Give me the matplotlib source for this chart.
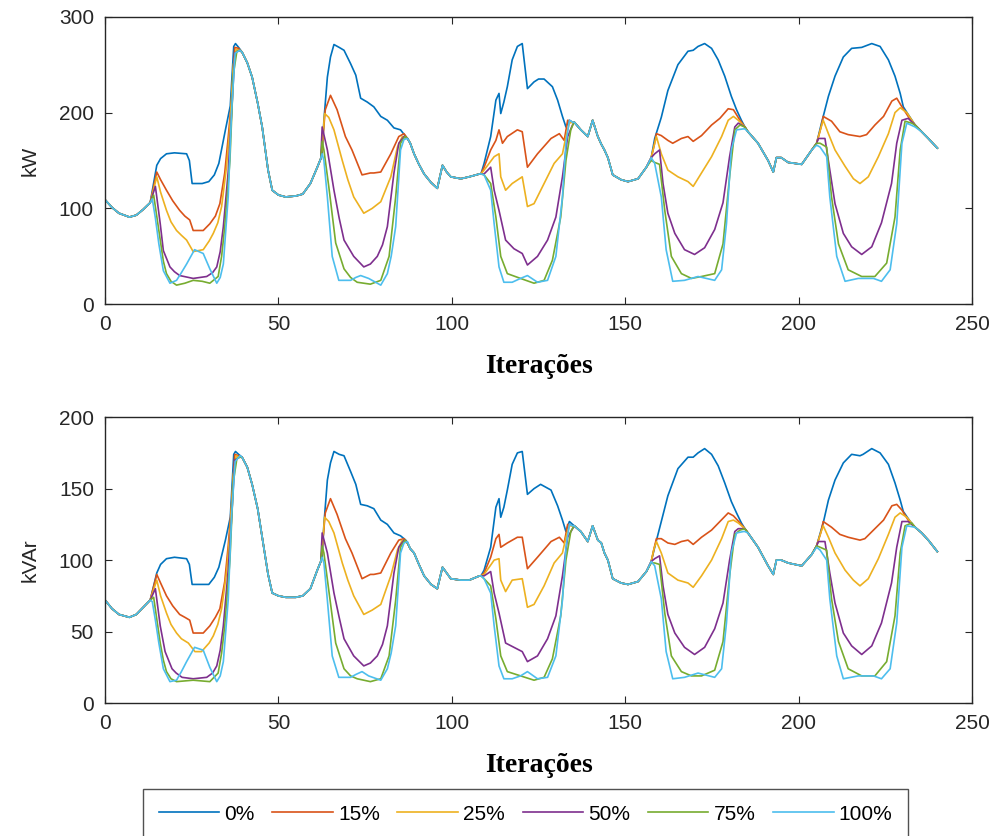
import matplotlib
matplotlib.use('Agg')
import matplotlib.pyplot as plt

labels = ['0%', '15%', '25%', '50%', '75%', '100%']
colors = ['#0072BD', '#D95319', '#EDB120', '#7E2F8E', '#77AC30', '#4DBEEE']

# stretches where every case is the same (between the load windows)
base_x = [0, 2, 4, 7, 9, 11, 13,
          39.5, 41, 42.4, 44, 45.3, 47, 48.2, 50, 52.1, 55, 57, 59.2, 61.2, 62.2,
          88, 89.1, 90.5, 92, 94, 95.8, 97.3, 98.5, 99.7, 102.6, 105, 108,
          135.3, 137.2, 139.2, 140.6, 142.1, 143.1, 144, 145, 146.4, 148.8, 150.8, 153.7, 156.1,
          185.4, 188.3, 191.2, 192.7, 193.6, 195, 197, 200.9, 203.8,
          235.5, 237.4, 240]
kw_base = [109, 101, 95, 91, 93, 99, 106,
           263, 252, 237, 210, 185, 140, 119, 114, 112, 113, 115, 126, 143, 152,
           168, 157, 146, 136, 127, 121, 145, 138, 133, 131, 133, 136,
           190, 182, 175, 192, 175, 167, 161, 153, 135, 130, 128, 131, 143,
           180, 168, 150, 138, 153, 153, 148, 146, 161,
           180, 173, 163]
kvar_base = [72, 66, 62, 60, 62, 67, 72,
             172, 165, 153, 136, 116, 90, 77, 75, 74, 74, 75, 80, 93, 99,
             108, 105, 97, 89, 83, 80, 95, 91, 87, 86, 86, 89,
             124, 120, 113, 124, 114, 112, 105, 100, 87, 84, 83, 85, 92,
             119, 109, 96, 90, 100, 100, 98, 96, 104,
             119, 114, 106]

# kW inside the windows, (iteration, value)
kw_0 = [(14.9,145),(16,152),(17.7,157),(20,158),(23.5,157),(24.3,150),(25.1,126),(28,126),(29.9,128),(31.5,135),(32.8,147),(34.7,182),(36.1,207),(37.1,269),(37.6,272),(38.5,268),
        (62.6,157),(63.1,192),(64.1,237),(65,258),(66,271),(67.5,268),(68.9,265),(70.8,251),(72.3,239),(73.7,215),(75.6,211),(77.5,206),(79.5,196),(81.4,192),(83.3,184),(85.2,182),(86.7,175),(87.2,173),
        (108.4,136),(109.3,147),(111.2,175),(112.7,213),(113.6,220),(114.1,199),(115,211),(116,227),(117.4,255),(118.9,269),(120.3,272),(121,250),(121.8,225),(123.7,232),(125,235),(126.6,235),(129,227),(130.5,213),(131.9,196),(132.9,185),(133.9,192),(134.8,190),
        (157.5,153),(158.5,173),(160.4,195),(162.3,223),(165.2,250),(168.1,264),(169.6,265),(171,269),(172.9,272),(174.9,267),(176.8,255),(178.7,238),(180.6,217),(182.1,203),(183.5,192),(184.5,185),
        (205.2,168),(206.6,189),(208.6,217),(210.5,238),(212.9,258),(215.3,267),(218.2,268),(221.1,272),(223.5,269),(225.9,255),(227.8,238),(229.3,220),(230.2,206),(231.6,198),(233.6,187)]
kw_15 = [(14.9,138),(16,130),(17.7,119),(19.5,108),(21.5,98),(23,92),(24.4,88),(25.4,77),(28.3,77),(30.2,84),(31.8,92),(33.1,105),(34.5,137),(35.5,174),(36.5,215),(37.4,268),(38.5,267),
         (62.6,165),(63.5,203),(65,218),(66.9,203),(69.3,175),(71.2,161),(74.1,135),(76.5,137),(77.5,137),(79.5,138),(82.4,157),(84.7,175),(86.2,178),(87.2,173),
         (108.4,136),(109.3,143),(111.2,161),(112.7,171),(113.6,182),(114.6,168),(116,175),(118.9,182),(120.3,180),(121.8,143),(124.7,157),(128.6,173),(131,178),(132.4,171),(133.4,192),(134.8,190),
         (157.5,153),(158.3,165),(159,178),(160.4,176),(162.3,171),(163.7,168),(166.2,173),(168.1,175),(169.6,170),(172,176),(174.9,187),(177.3,194),(179.7,204),(181.2,203),(183.1,192),(184.5,185),
         (205.2,168),(206.5,185),(207.1,196),(209.5,191),(211.9,180),(214.3,177),(217.7,175),(219.6,177),(222,187),(224.5,196),(226.9,212),(228.3,215),(229.8,206),(231.6,196),(233.6,187)]
kw_25 = [(14.9,133),(16,117),(17.7,98),(19,86),(20.6,77),(22,72),(23.5,67),(25.4,55),(28.3,57),(30,66),(31.2,74),(32.5,85),(33.6,102),(35,143),(36,185),(37,250),(37.8,266),(38.7,265),
         (62.6,165),(63.3,199),(64.5,195),(66,182),(68.4,150),(70,130),(71.7,112),(74.6,95),(77,100),(79.5,107),(82.4,133),(84.3,164),(85.7,175),(87.2,173),
         (108.4,136),(109.3,140),(112.2,154),(113.6,157),(114.1,133),(115.5,119),(117.4,126),(120.3,133),(121.8,102),(123.7,105),(126.6,126),(129.5,147),(131.9,157),(132.9,175),(133.9,189),(134.8,190),
         (157.5,153),(158.3,165),(159,175),(160.4,157),(162.3,140),(165.2,133),(168.1,128),(169.6,123),(172,137),(174.9,154),(177.8,175),(179.7,192),(181.2,196),(182.6,192),(184.5,185),
         (205.2,168),(206.5,185),(207.1,192),(208.6,178),(210.5,161),(213.4,144),(215.8,131),(217.7,126),(220.1,133),(223,154),(225.9,178),(227.8,200),(229.3,205),(231.2,200),(233.6,187)]
kw_50 = [(14.5,123),(15.9,84),(16.8,56),(18.7,39),(20,34),(21.5,30),(25.4,27),(29.3,29),(31,33),(32.2,39),(33.2,55),(34.1,81),(35.5,138),(36.5,200),(37.4,262),(38.7,265),
         (62.6,185),(64.1,161),(66,119),(67.5,90),(68.9,67),(71.7,50),(74.6,39),(76.5,42),(78.5,50),(80,62),(81.4,81),(83.3,137),(84.7,168),(86.2,175),(87.2,173),
         (108.4,136),(109.3,136),(111.2,143),(112.2,119),(113.6,98),(115.5,67),(117.9,58),(120.3,53),(121.8,41),(124.7,50),(127.6,67),(130,91),(131.9,133),(133.4,175),(134.8,187),
         (157.5,153),(158.5,157),(159.9,161),(160.9,126),(162.3,95),(164.3,74),(167.1,57),(170,52),(172.9,59),(175.8,78),(178.2,106),(180.1,154),(181.6,185),(182.6,189),(184.5,185),
         (205.2,168),(205.7,173),(207.6,173),(209,140),(210.5,105),(212.9,74),(215.3,60),(218.2,52),(221.1,60),(223.9,85),(226.8,126),(228.3,168),(229.8,192),(231.6,194),(233.6,187)]
kw_75 = [(14,114),(15.9,67),(16.8,45),(17.7,32),(19,24),(20.6,20),(23,22),(25.4,25),(28,24),(30.2,22),(32.6,29),(33.6,50),(34.5,81),(36,150),(37,240),(38,264),(38.9,265),
         (62.6,170),(63.1,161),(64.5,123),(66.5,64),(68.9,37),(70.8,28),(72.7,23),(76.5,21),(79.5,25),(81.9,50),(83.8,112),(85.2,168),(86.5,175),(87.2,173),
         (108.4,136),(109.3,135),(111.2,126),(112.7,91),(114.1,50),(116,32),(119.8,27),(123.7,22),(126.6,25),(129,46),(131.4,91),(132.9,150),(134.3,182),(135,188),
         (157.5,150),(158.5,148),(159.9,146),(161.4,98),(163.3,50),(166.2,32),(169.1,27),(172,29),(175.8,32),(178.2,63),(180.1,133),(181.6,182),(183.1,187),(184.5,185),
         (205.2,168),(206.2,168),(208.1,164),(209.5,112),(211.5,63),(214.3,36),(218.2,29),(222,29),(225.4,43),(227.8,91),(229.3,161),(230.7,191),(232.6,189),(233.6,187)]
kw_100 = [(13.6,110),(14.5,90),(15.5,63),(16.8,35),(18.7,22),(20.6,25),(22,33),(23.5,42),(25.8,57),(28.3,53),(30.2,37),(32.2,22),(33.2,28),(34.1,42),(35.5,112),(36.5,203),(37.5,262),(38.9,265),
          (62.6,157),(63.1,150),(64.1,112),(65.5,50),(67.4,25),(70.8,25),(72.3,28),(73.7,30),(76,27),(79.5,20),(81.4,32),(82.5,50),(83.8,81),(85.2,161),(86.2,172),(87.2,173),
          (108.4,136),(109.3,135),(111.2,119),(112.2,84),(113.6,39),(115,23),(117.4,23),(119.8,27),(121.8,30),(124.7,23),(127.6,25),(130,50),(131.9,112),(132.9,168),(133.9,192),(134.8,190),
          (157.5,153),(158.5,147),(160.4,112),(161.8,57),(163.7,24),(167.1,25),(171,29),(175.8,25),(177.8,36),(179.2,84),(180.6,161),(182.1,182),(184.1,183),(184.5,183),
          (205.2,166),(206.2,164),(208.1,154),(209,112),(211,50),(213.4,24),(217.2,27),(221.6,27),(223.9,24),(226.4,36),(228.3,84),(229.8,168),(231.2,189),(233.6,185)]

# kVAr inside the windows
kvar_0 = [(14.9,91),(16,97),(17.7,101),(20,102),(23.5,101),(24.3,97),(25.1,83),(28,83),(29.9,83),(31.5,88),(32.8,95),(34.7,114),(36.1,130),(37.1,174),(37.6,176),(38.5,174),
          (62.6,102),(63.1,125),(64.1,156),(65,168),(66,176),(67.5,174),(68.9,173),(70.8,162),(72.3,153),(73.7,139),(75.6,138),(77.5,136),(79.5,128),(81.4,125),(83.3,119),(85.2,117),(86.7,114),(87.2,112),
          (108.4,89),(109.3,93),(111.2,109),(112.7,137),(113.6,143),(114.1,130),(115,137),(116,149),(117.4,167),(118.9,175),(120.3,176),(121,162),(121.8,146),(123.7,150),(125.6,153),(128.6,149),(130.5,138),(131.9,128),(132.9,120),(133.9,127),(134.8,125),
          (157.5,99),(158.5,109),(160.4,127),(162.3,145),(165.2,164),(168.1,172),(169.6,172),(171,175),(172.9,178),(174.9,174),(176.8,166),(178.7,154),(180.6,141),(182.1,133),(183.5,126),(184.5,122),
          (205.2,110),(206.6,122),(207.1,126),(208.6,142),(210.5,156),(212.9,168),(215.3,174),(217.7,173),(218.6,174),(221.1,178),(223.5,175),(225.9,167),(227.8,154),(229.3,142),(230.2,134),(232.2,127),(233.6,123)]
kvar_15 = [(14.9,90),(16,84),(17.7,75),(19.5,68),(21.5,62),(23,60),(24.4,58),(25.4,49),(28.3,49),(30.2,54),(31.8,60),(33.1,66),(34.5,85),(35.5,110),(36.5,140),(37.4,174),(38.5,173),
           (62.6,108),(63.5,133),(65,143),(66.9,132),(69.3,115),(71.2,105),(74.1,87),(76.5,90),(77.5,90),(79.5,91),(82.4,105),(84.7,114),(86.2,115),(87.2,112),
           (108.4,89),(109.3,91),(111.2,102),(112.7,115),(113.6,118),(114.1,109),(116,112),(118.9,116),(120.3,116),(121.8,94),(124.7,102),(128.6,113),(131,116),(132.4,112),(133.4,125),(134.8,124),
           (157.5,99),(158.3,108),(159,115),(160.4,115),(162.3,112),(164.3,111),(166.2,113),(168.1,114),(169.6,111),(172,116),(174.9,121),(177.3,127),(179.7,133),(181.2,131),(183.1,126),(184.5,122),
           (205.2,110),(206.5,120),(207.1,127),(209.5,123),(211.9,118),(214.3,116),(217.7,114),(219.1,115),(222,122),(224.5,128),(226.9,138),(228.3,139),(229.8,135),(231.6,128),(233.6,123)]
kvar_25 = [(14.9,86),(16,75),(17.7,63),(19,55),(20.6,49),(22,45),(24,42),(25.9,36),(27.8,36),(30,42),(31.2,47),(32.5,55),(33.6,66),(35,91),(36,119),(37,160),(37.8,173),(38.7,172),
           (62.6,108),(63.3,130),(64.5,127),(66,119),(68.4,98),(70,86),(71.7,75),(74.6,62),(77,65),(79.5,69),(82.4,89),(84.3,107),(85.7,114),(87.2,112),
           (108.4,89),(109.3,90),(112.2,100),(113.6,101),(114.1,86),(115.5,78),(117.4,86),(120.3,87),(121.8,67),(123.7,69),(126.6,82),(129.5,98),(131.9,105),(132.9,116),(133.9,124),(134.8,124),
           (157.5,99),(158.3,108),(159,113),(160.4,105),(162.3,91),(165.2,86),(168.1,84),(169.6,81),(172,89),(174.9,100),(177.8,115),(179.7,127),(181.2,128),(182.6,126),(184.5,122),
           (205.2,110),(206.5,120),(207.1,124),(208.6,116),(210.5,105),(213.4,93),(215.8,86),(217.7,82),(220.1,87),(223,101),(225.9,118),(227.8,130),(229.3,133),(231.2,130),(233.6,123)]
kvar_50 = [(14.5,80),(15.9,54),(17.3,36),(19.3,24),(20.5,21),(22.2,18),(25.4,17),(29.3,18),(31,21),(32.2,26),(33.2,37),(34.1,54),(35.5,93),(36.5,130),(37.4,170),(38.7,172),
           (62.6,119),(64.1,105),(66,77),(67.5,60),(68.9,45),(71.7,33),(74.6,26),(76.5,28),(78.5,33),(80,41),(81.4,54),(83.3,91),(84.7,109),(86.2,114),(87.2,112),
           (108.4,89),(109.3,89),(111.2,92),(112.2,77),(113.6,63),(115.5,42),(117.9,39),(120.3,36),(121.8,29),(124.7,33),(127.6,45),(130,61),(131.9,89),(133.4,116),(134.8,122),
           (157.5,99),(158.5,101),(159.9,103),(160.9,82),(162.3,62),(164.3,49),(167.1,39),(170,34),(172.9,39),(175.8,52),(178.2,70),(180.1,100),(181.6,120),(182.6,122),(184.5,122),
           (205.2,110),(205.7,113),(207.6,113),(209,91),(210.5,70),(212.9,49),(215.3,40),(218.2,34),(221.1,40),(223.9,56),(226.8,84),(228.3,109),(229.8,127),(231.6,127),(233.6,123)]
kvar_75 = [(14,74),(15.9,42),(16.8,30),(17.7,22),(19,17),(20.6,15),(23,15.5),(25.4,16),(28,15.5),(30.2,15),(32.6,21),(33.6,35),(34.5,54),(36,100),(37,155),(38,171),(38.9,172),
           (62.6,110),(63.1,105),(64.5,79),(66.5,42),(68.9,24),(70.8,19),(72.7,17),(76.5,15),(79.5,17),(81.9,33),(83.8,72),(85.2,109),(86.5,114),(87.2,112),
           (108.4,89),(109.3,87),(111.2,82),(112.7,59),(114.1,33),(116,22),(119.8,19),(123.7,16),(126.6,18),(129,31),(131.4,61),(132.9,100),(134.3,120),(135,123),
           (157.5,98),(158.5,98),(159.9,97),(161.4,63),(163.3,33),(166.2,22),(169.1,19),(172,19),(175.8,23),(178.2,43),(180.1,89),(181.6,118),(183.1,121),(184.5,122),
           (205.2,110),(206.2,109),(208.1,107),(209.5,73),(211.5,43),(214.3,24),(218.2,19),(222,19),(225.4,29),(227.8,61),(229.3,105),(230.7,124),(232.6,126),(233.6,123)]
kvar_100 = [(13.6,71),(14.5,58),(15.5,42),(16.8,24),(18.7,15),(20.6,16),(22,22),(23.5,29),(25.8,39),(28.3,37),(30.2,25),(32.2,15),(33.2,19),(34.1,29),(35.5,72),(36.5,132),(37.5,169),(38.9,173),
            (62.6,102),(63.1,98),(64.1,72),(65.5,33),(67.4,18),(70.8,18),(72.3,20),(74.1,22),(76,19),(79.5,16),(81.4,24),(82.5,35),(83.8,54),(85.2,105),(86.2,112),(87.2,113),
            (108.4,89),(109.3,87),(111.2,77),(112.2,54),(113.6,26),(115,17),(117.4,17),(119.8,19),(121.8,22),(124.7,17),(127.6,18),(130,33),(131.9,72),(132.9,109),(133.9,125),(134.8,124),
            (157.5,99),(158.5,96),(160.4,73),(161.8,36),(163.7,17),(167.1,18),(171,21),(175.8,18),(177.8,24),(179.2,56),(180.6,105),(182.1,119),(184.1,120),(184.5,120),
            (205.2,109),(206.2,107),(208.1,100),(209,73),(211,33),(212.9,17),(217.2,19),(221.6,19),(223.9,17),(226.4,24),(228.3,56),(229.8,109),(231.2,124),(233.6,123)]

kw_series = [kw_0, kw_15, kw_25, kw_50, kw_75, kw_100]
kvar_series = [kvar_0, kvar_15, kvar_25, kvar_50, kvar_75, kvar_100]

plt.rcParams['font.family'] = ['Liberation Sans', 'DejaVu Sans']

fig = plt.figure(figsize=(10.01, 8.36), dpi=100)
ax1 = fig.add_axes([0.105, 0.636, 0.866, 0.344])
ax2 = fig.add_axes([0.105, 0.159, 0.866, 0.342])

def draw(ax, base, series):
    for pts, col, lab in zip(series, colors, labels):
        allpts = sorted(list(zip(base_x, base)) + pts)
        xs = [p[0] for p in allpts]
        ys = [p[1] for p in allpts]
        ax.plot(xs, ys, color=col, lw=1.2, label=lab)

draw(ax1, kw_base, kw_series)
draw(ax2, kvar_base, kvar_series)

for ax, top, step, lab in [(ax1, 300, 100, 'kW'), (ax2, 200, 50, 'kVAr')]:
    ax.set_xlim(0, 250)
    ax.set_ylim(0, top)
    ax.set_xticks(range(0, 251, 50))
    ax.set_yticks(range(0, top + 1, step))
    ax.tick_params(direction='in', top=True, right=True, labelsize=15,
                   length=5, width=0.8, colors='#262626', pad=8)
    for s in ax.spines.values():
        s.set_color('#262626')
        s.set_linewidth(1.0)
    ax.set_ylabel(lab, fontsize=15, color='#262626', labelpad=14)
    ax.set_xlabel('Iterações', fontsize=20, fontweight='bold',
                  family='Liberation Serif', labelpad=14)

handles, labs = ax1.get_legend_handles_labels()
leg = fig.legend(handles, labs, loc='lower center', bbox_to_anchor=(0.525, -0.004),
                 ncol=6, fontsize=15, frameon=True, fancybox=False,
                 handlelength=2.9, handletextpad=0.25, columnspacing=0.85,
                 borderpad=0.75, borderaxespad=0.0)
leg.get_frame().set_edgecolor('#262626')
leg.get_frame().set_linewidth(1.0)

fig.savefig('out.png', dpi=100)
